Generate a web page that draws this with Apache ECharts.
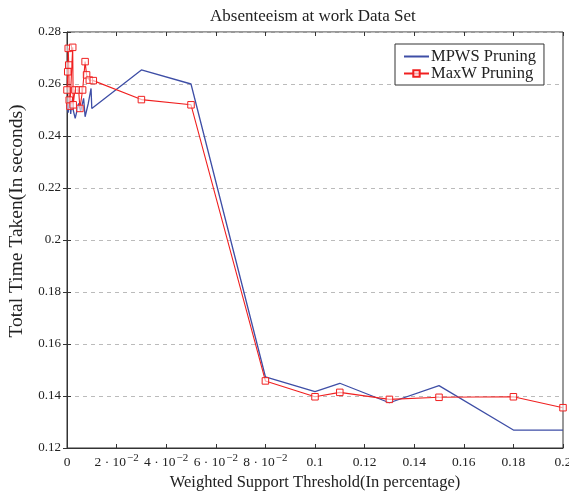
<!DOCTYPE html>
<html>
<head>
<meta charset="utf-8">
<script src="https://cdn.jsdelivr.net/npm/echarts@6/dist/echarts.min.js"></script>
<style>html,body{margin:0;padding:0;background:#fff;}#c{width:569px;height:498px;}</style>
</head>
<body>
<div id="c"></div>
<script>
var titleText = 'Absenteeism at work Data Set';
var xName = 'Weighted Support Threshold(In percentage)';
var yName = 'Total Time Taken(In seconds)';
var seriesNames = ['MPWS Pruning', 'MaxW Pruning'];

var mpwsX = [0, 0.0005, 0.001, 0.0015, 0.002, 0.0025, 0.0033, 0.0047, 0.0055, 0.0067, 0.0073, 0.0086, 0.0097, 0.01, 0.03, 0.05, 0.08, 0.1, 0.11, 0.13, 0.15, 0.18, 0.2];
var mpwsY = [0.252, 0.249, 0.2555, 0.2485, 0.254, 0.250, 0.2468, 0.2525, 0.2495, 0.2545, 0.2474, 0.2526, 0.2583, 0.2506, 0.2654, 0.260, 0.1474, 0.1417, 0.1449, 0.1374, 0.144, 0.1269, 0.1269];

var maxwX = [0, 0.0003, 0.0005, 0.0007, 0.0009, 0.0012, 0.0023, 0.0025, 0.0032, 0.0047, 0.0052, 0.0063, 0.0073, 0.0079, 0.009, 0.0106, 0.03, 0.05, 0.08, 0.1, 0.11, 0.13, 0.15, 0.18, 0.2];
var maxwY = [0.2577, 0.2647, 0.2737, 0.2673, 0.2538, 0.2515, 0.2741, 0.2520, 0.2577, 0.2577, 0.2506, 0.2577, 0.2686, 0.2635, 0.2615, 0.2613, 0.254, 0.252, 0.1458, 0.1397, 0.1414, 0.1387, 0.1395, 0.1397, 0.1355];

var xTicks = {0: '{n|0}', 0.02: '{n|2 · 10}{s|−2}', 0.04: '{n|4 · 10}{s|−2}', 0.06: '{n|6 · 10}{s|−2}', 0.08: '{n|8 · 10}{s|−2}', 0.1: '{n|0.1}', 0.12: '{n|0.12}', 0.14: '{n|0.14}', 0.16: '{n|0.16}', 0.18: '{n|0.18}', 0.2: '{n|0.2}'};

function zip(a, b) { return a.map(function (v, i) { return [v, b[i]]; }); }

var FONT = 'Liberation Serif';
var chart = echarts.init(document.getElementById('c'), null, {renderer: 'canvas'});
chart.setOption({
  animation: false,
  backgroundColor: '#fff',
  title: {
    text: titleText, left: 205, top: 3,
    textStyle: {fontFamily: FONT, fontWeight: 'normal', fontSize: 17, color: '#222'}
  },
  legend: {
    data: [
      {name: seriesNames[0], itemStyle: {color: 'rgba(0,0,0,0)', borderWidth: 0, opacity: 0}},
      {name: seriesNames[1]}
    ],
    orient: 'vertical', left: 395, top: 44,
    backgroundColor: '#fff', borderColor: '#333', borderWidth: 1, borderRadius: 0,
    padding: [4, 8, 3, 8], itemGap: 0, itemWidth: 25, itemHeight: 8,
    textStyle: {fontFamily: FONT, fontSize: 16.5, color: '#222', padding: [0, 0, 0, -3]}
  },
  grid: {left: 67, right: 6, top: 32, bottom: 50, show: true, borderColor: '#333', borderWidth: 1, outerBoundsMode: 'none', containLabel: false},
  xAxis: [{
    type: 'value', min: 0, max: 0.2, interval: 0.02,
    name: xName, nameLocation: 'middle', nameGap: 26,
    nameTextStyle: {fontFamily: FONT, fontSize: 16.5, color: '#222'},
    axisLine: {show: true, lineStyle: {color: '#333'}},
    axisTick: {show: true, inside: true, length: 4, lineStyle: {color: '#333'}},
    splitLine: {show: false},
    axisLabel: {
      interval: 0, margin: 5, fontFamily: FONT, fontSize: 13, color: '#222',
      formatter: function (v) { var k = Math.round(v * 100) / 100; return xTicks[k] !== undefined ? xTicks[k] : '{n|' + k + '}'; },
      rich: {
        n: {fontFamily: FONT, fontSize: 13.5, lineHeight: 16, color: '#222', verticalAlign: 'bottom'},
        s: {fontFamily: FONT, fontSize: 11, lineHeight: 11, color: '#222', verticalAlign: 'top', padding: [0, 0, 0, 1]}
      }
    }
  }, {
    type: 'value', min: 0, max: 0.2, interval: 0.02, position: 'top',
    axisLine: {show: false}, axisTick: {show: true, inside: true, length: 4, lineStyle: {color: '#333'}},
    axisLabel: {show: false}, splitLine: {show: false}
  }],
  yAxis: [{
    type: 'value', min: 0.12, max: 0.28, interval: 0.02,
    name: yName, nameLocation: 'middle', nameGap: 40,
    nameTextStyle: {fontFamily: FONT, fontSize: 19.5, color: '#222', padding: [0, 0, 0, 38]},
    axisLine: {show: true, lineStyle: {color: '#333'}},
    axisTick: {show: true, inside: true, length: 4, lineStyle: {color: '#333'}},
    splitLine: {show: true, lineStyle: {color: '#bbb', type: [4, 4], width: 1}},
    axisLabel: {margin: 6, fontFamily: FONT, fontSize: 13, color: '#222'}
  }, {
    type: 'value', min: 0.12, max: 0.28, interval: 0.02, position: 'right',
    axisLine: {show: false}, axisTick: {show: true, inside: true, length: 4, lineStyle: {color: '#333'}},
    axisLabel: {show: false}, splitLine: {show: false}
  }],
  series: [{
    name: seriesNames[0], type: 'line', data: zip(mpwsX, mpwsY),
    symbol: 'none', lineStyle: {color: '#3e4ea6', width: 1.3}, itemStyle: {color: '#3e4ea6'}, z: 2
  }, {
    name: seriesNames[1], type: 'line', data: zip(maxwX, maxwY),
    symbol: 'rect', symbolSize: 6.5, showAllSymbol: true,
    lineStyle: {color: '#f02020', width: 1.1},
    itemStyle: {color: 'rgba(255,255,255,0.6)', borderColor: '#f02020', borderWidth: 1}, z: 3
  }]
});
</script>
</body>
</html>
